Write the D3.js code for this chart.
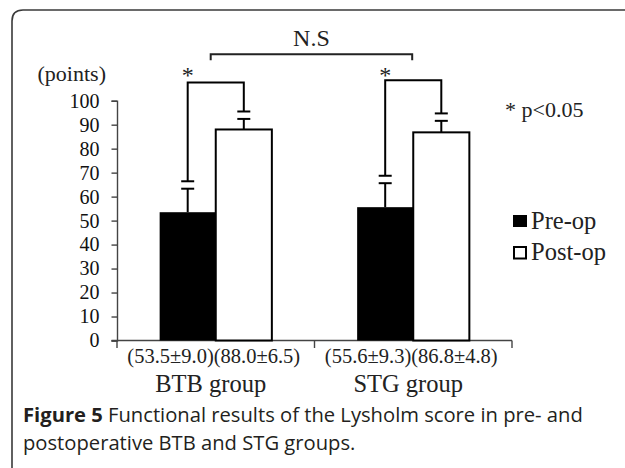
<!DOCTYPE html>
<html>
<head>
<meta charset="utf-8">
<script src="https://cdn.jsdelivr.net/npm/d3@7"></script>
<style>
html,body{margin:0;padding:0;background:#fff;}
svg{display:block;}
</style>
</head>
<body>
<svg id="chart" width="625" height="468"></svg>
<script>
// ---- data ----
const groups = ["BTB group", "STG group"];
const series = ["Pre-op", "Post-op"];
const means = [[53.5, 88.0], [55.6, 86.8]];
const errDrawn = [[9.8, 4.4], [10.0, 4.8]];      // error bar extent as drawn
const valueLabels = ["(53.5\u00B19.0)(88.0\u00B16.5)", "(55.6\u00B19.3)(86.8\u00B14.8)"];
const yTicks = [0,10,20,30,40,50,60,70,80,90,100];
const sigLabel = "*";
const nsLabel = "N.S";
const pNote = "* p<0.05";
const unitLabel = "(points)";
const captionBold = "Figure 5";
const captionRest1 = " Functional results of the Lysholm score in pre- and";
const captionLine2 = "postoperative BTB and STG groups.";

const svg = d3.select("#chart");
const serif = "'Liberation Serif','Times New Roman',serif";
const sans = "'Open Sans','Noto Sans',sans-serif";

// frame (rounded top-left corner)
svg.append("path")
  .attr("d", "M12,468 L12,21 Q12,10 23,10 L625,10")
  .attr("fill","none").attr("stroke","#3a3a3a").attr("stroke-width",1.6);

const x0 = d3.scaleBand().domain(groups).range([117, 512]).paddingInner(0).paddingOuter(0);
const x1 = d3.scaleBand().domain(series).range([0, x0.bandwidth()]).paddingInner(0).paddingOuter(0.76);
const y = d3.scaleLinear().domain([0,100]).range([340.5, 100.7]);

// y axis
const yAxis = svg.append("g").attr("transform","translate(117,0)")
  .call(d3.axisLeft(y).tickValues(yTicks).tickSize(5.5).tickPadding(12).tickFormat(d3.format("d")));
yAxis.select(".domain").attr("stroke","#444").attr("stroke-width",1.4);
yAxis.selectAll(".tick line").attr("stroke","#444").attr("stroke-width",1.4);
yAxis.selectAll(".tick text").attr("font-family",serif).attr("font-size",20).attr("fill","#111");

// x axis
const xAxis = svg.append("g").attr("transform",`translate(0,${y(0)})`)
  .call(d3.axisBottom(x0).tickSize(0).tickFormat(""));
xAxis.select(".domain").attr("stroke","#444").attr("stroke-width",1.4)
  .attr("d", `M${x0.range()[0]-5.5},0H${x0.range()[1]}`);
const xTickPos = [x0(groups[0]), x0(groups[1]), x0(groups[1]) + x0.bandwidth()];
xAxis.selectAll(".sep").data(xTickPos).join("line").attr("class","sep")
  .attr("x1",d=>d).attr("x2",d=>d).attr("y1",0).attr("y2",7.5)
  .attr("stroke","#444").attr("stroke-width",1.4);

// bars
const gG = svg.append("g").selectAll("g").data(groups).join("g")
  .attr("transform", d => `translate(${x0(d)},0)`);
gG.each(function(g, gi){
  const sel = d3.select(this);
  series.forEach((s, si) => {
    const v = means[gi][si];
    sel.append("rect")
      .attr("x", x1(s)).attr("width", x1.bandwidth())
      .attr("y", y(v)).attr("height", y(0) - y(v))
      .attr("fill", si === 0 ? "#000" : "#fff")
      .attr("stroke", "#000").attr("stroke-width", si === 0 ? 0 : 2);
    const cx = x1(s) + x1.bandwidth()/2;
    const top = v + errDrawn[gi][si];
    sel.append("line").attr("x1",cx).attr("x2",cx).attr("y1",y(v)).attr("y2",y(top))
      .attr("stroke","#000").attr("stroke-width",2);
    sel.append("line").attr("x1",cx-6.5).attr("x2",cx+6.5).attr("y1",y(top)).attr("y2",y(top))
      .attr("stroke","#000").attr("stroke-width",2);
  });
});

// significance brackets
const bracketY = [107.6, 108.5];
const footGap = 3.1;
groups.forEach((g, gi) => {
  const xa = x0(g) + x1(series[0]) + x1.bandwidth()/2;
  const xb = x0(g) + x1(series[1]) + x1.bandwidth()/2;
  const fa = means[gi][0] + errDrawn[gi][0] + footGap;
  const fb = means[gi][1] + errDrawn[gi][1] + footGap;
  const by = y(bracketY[gi]);
  svg.append("path")
    .attr("d", `M${xa},${y(fa)}V${by}H${xb}V${y(fb)}`)
    .attr("fill","none").attr("stroke","#000").attr("stroke-width",2);
  [[xa,fa],[xb,fb]].forEach(([xx,ff]) => {
    svg.append("line").attr("x1",xx-6.5).attr("x2",xx+6.5).attr("y1",y(ff)).attr("y2",y(ff))
      .attr("stroke","#000").attr("stroke-width",2);
  });
  svg.append("text").attr("x", xa).attr("y", y(111.6) + 10)
    .attr("text-anchor","middle").attr("font-family",serif).attr("font-size",24)
    .attr("fill","#222").text(sigLabel);
});

// top N.S bracket
{
  const xa = x0(groups[0]) + x1(series[0]) + x1.bandwidth()/2 + 23;
  const xb = x0(groups[1]) + x1(series[0]) + x1.bandwidth()/2 + 27;
  const ty = y(119.4), fy = y(116.9);
  svg.append("path").attr("d", `M${xa},${fy}V${ty}H${xb}V${fy}`)
    .attr("fill","none").attr("stroke","#222").attr("stroke-width",2);
  svg.append("text").attr("x",(xa+xb)/2).attr("y", 46)
    .attr("text-anchor","middle").attr("font-family",serif).attr("font-size",24)
    .attr("fill","#222").text(nsLabel);
}

// value labels and group labels
groups.forEach((g, gi) => {
  const cx = x0(g) + x0.bandwidth()/2;
  svg.append("text").attr("x", cx - 2).attr("y", 363)
    .attr("text-anchor","middle").attr("font-family",serif).attr("font-size",20.5)
    .attr("fill","#222").text(valueLabels[gi]);
  svg.append("text").attr("x", cx - 5).attr("y", 391.5)
    .attr("text-anchor","middle").attr("font-family",serif).attr("font-size",24.5)
    .attr("fill","#222").text(g);
});

// unit label
svg.append("text").attr("x",106).attr("y",81).attr("text-anchor","end")
  .attr("font-family",serif).attr("font-size",22).attr("fill","#222").text(unitLabel);

// p note
svg.append("text").attr("x",505).attr("y",117)
  .attr("font-family",serif).attr("font-size",22).attr("fill","#222").text(pNote);

// legend
const leg = svg.append("g").attr("transform","translate(513,215)");
series.forEach((s, si) => {
  const row = leg.append("g").attr("transform",`translate(0,${si*31})`);
  row.append("rect").attr("x",si===0?0:1).attr("y",si===0?0:1)
    .attr("width",si===0?14:12).attr("height",si===0?12:11.5)
    .attr("fill",si===0?"#000":"#fff").attr("stroke","#000").attr("stroke-width",si===0?0:2);
  row.append("text").attr("x",18).attr("y",14).attr("font-family",serif).attr("font-size",24.5)
    .attr("fill","#222").text(s);
});

// caption
const cap = svg.append("text").attr("x",23).attr("y",422)
  .attr("font-family",sans).attr("font-size",20.2).attr("fill","#231f20");
cap.append("tspan").attr("font-weight","bold").text(captionBold);
cap.append("tspan").text(captionRest1);
svg.append("text").attr("x",23).attr("y",450)
  .attr("font-family",sans).attr("font-size",20.2).attr("fill","#231f20").text(captionLine2);
</script>
</body>
</html>
